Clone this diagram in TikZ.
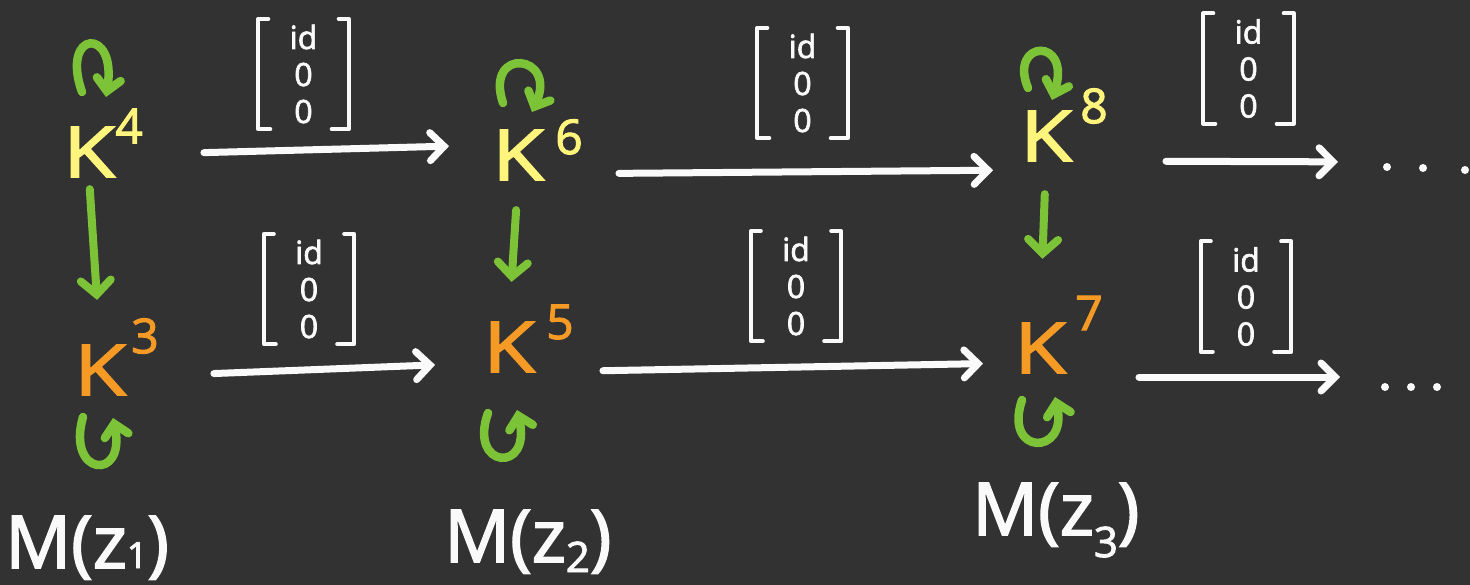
\documentclass[tikz,border=0pt]{standalone}
\usepackage{fontspec}
\setmainfont{Open Sans}[FakeBold=2.2]
\usetikzlibrary{arrows.meta,calc}

\definecolor{board}{HTML}{323232}
\definecolor{chalkw}{HTML}{FAFAFA}
\definecolor{kyellow}{HTML}{FFF47C}
\definecolor{korange}{HTML}{F59B25}
\definecolor{kgreen}{HTML}{7CC338}

\tikzset{
  every node/.style={inner sep=0pt},
  kay/.style={font=\fontsize{70}{70}\selectfont, minimum width=44pt},
  expo/.style={font=\fontsize{48}{48}\selectfont},
  mlabel/.style={text=chalkw, anchor=base west, font=\fontsize{73}{73}\selectfont},
  matx/.style={text=chalkw, align=center, font=\fontsize{32}{37}\selectfont,
               minimum width=90pt, minimum height=110pt},
  bracket/.style={chalkw, line width=4pt, line cap=round, line join=round},
  harrow/.style={chalkw, line width=7pt, line cap=round,
                 -{Straight Barb[length=14pt,width=28pt,line cap=round]}},
  varrow/.style={kgreen, line width=8pt, line cap=round,
                 -{Straight Barb[length=14pt,width=30pt,line cap=round]}},
  loopy/.style={kgreen, line width=8.5pt, line cap=round,
                -{Straight Barb[length=12pt,width=24pt,line cap=round]}},
}

% square brackets around a column node
\newcommand\mbrackets[1]{%
  \draw[bracket] ([xshift=10pt]#1.north west) -- (#1.north west)
     -- (#1.south west) -- ([xshift=12pt]#1.south west);
  \draw[bracket] ([xshift=-10pt]#1.north east) -- (#1.north east)
     -- (#1.south east) -- ([xshift=-17pt]#1.south east);
}
% lowered index in the M(z_i) labels
\newcommand\lowidx[3]{\raisebox{#1}{\fontsize{#2}{#2}\selectfont #3}}
% a wide hand-lettered K
\newcommand\wideK{\scalebox{1.2}[1]{K}}

\begin{document}
\begin{tikzpicture}[x=1pt, y=-1pt]
  \fill[board] (0,0) rectangle (1470,585);
  \useasboundingbox (0,0) rectangle (1470,585);

  % K nodes
  \node[kay, text=kyellow] (K4) at (89,152) {\wideK};
  \node[kay, text=korange] (K3) at (100,370) {\wideK};
  \node[kay, text=kyellow] (K6) at (518,155) {\wideK};
  \node[kay, text=korange] (K5) at (509,347) {\wideK};
  \node[kay, text=kyellow] (K8) at (1046,136) {\wideK};
  \node[kay, text=korange] (K7) at (1040,348) {\wideK};

  % exponents
  \node[expo, text=kyellow] (K4x) at (129,126) {4};
  \node[expo, text=korange] (K3x) at (145,336) {3};
  \node[expo, text=kyellow] (K6x) at (569,137) {6};
  \node[expo, text=korange] (K5x) at (560,322) {5};
  \node[expo, text=kyellow] (K8x) at (1094,106) {8};
  \node[expo, text=korange] (K7x) at (1089,313) {7};

  % fibre labels
  \node[mlabel] (Mz1) at (5,568) {M(z\lowidx{0pt}{36}{1})};
  \node[mlabel] (Mz2) at (444,562) {M(z\lowidx{-10pt}{42}{2})};
  \node[mlabel] (Mz3) at (972,535) {M(z\lowidx{-22pt}{42}{3})};

  % column matrices over the maps
  \node[matx] (mTL) at (303.5,74) {id\\0\\0};
  \node[matx] (mTM) at (802.5,83) {id\\0\\0};
  \node[matx] (mTR) at (1248.5,68.5) {id\\0\\0};
  \node[matx] (mBL) at (309,289) {id\\0\\0};
  \node[matx] (mBM) at (796,286) {id\\0\\0};
  \node[matx] (mBR) at (1246,296.5) {id\\0\\0};
  \mbrackets{mTL}\mbrackets{mTM}\mbrackets{mTR}
  \mbrackets{mBL}\mbrackets{mBM}\mbrackets{mBR}

  % trailing dots
  \coordinate (dotsT) at (1387,167);
  \coordinate (dotsB) at (1385,387);
  \fill[chalkw] (dotsT) circle (4) ++(36,1) circle (4) ++(42,2) circle (4);
  \fill[chalkw] (dotsB) circle (4) ++(26,0) circle (4) ++(26,0) circle (4);

  % horizontal maps
  \draw[harrow, shorten <=89pt, shorten >=43pt]
    ([yshift=-3pt]K4.east) -- ([yshift=10pt]K6.west);
  \draw[harrow, shorten <=75pt, shorten >=27pt]
    ([yshift=-19pt]K6.east) -- ([yshift=-34pt]K8.west);
  \draw[harrow, shorten <=94pt, shorten >=49pt]
    ([yshift=-25pt]K8.east) -- ([yshift=5pt]dotsT);
  \draw[harrow, shorten <=88pt, shorten >=48pt]
    ([yshift=-7pt]K3.east) -- ([yshift=-16pt]K5.west);
  \draw[harrow, shorten <=68pt, shorten >=31pt]
    ([yshift=-25pt]K5.east) -- ([yshift=-15pt]K7.west);
  \draw[harrow, shorten <=73pt, shorten >=45pt]
    ([yshift=-29pt]K7.east) -- ([yshift=10pt]dotsB);

  % vertical maps
  \draw[varrow, shorten <=12pt, shorten >=45pt] (K4.south) -- (K3.north);
  \draw[varrow, shorten <=30pt, shorten >=40pt] (K6.south) -- (K5.north);
  \draw[varrow, shorten <=33pt, shorten >=64pt] (K8.south) -- (K7.north);

  % self maps above the upper row
  \draw[loopy] (82,92) .. controls (60,30) and (117,26) .. (106,97);
  \draw[loopy] (503,103) .. controls (484,46) and (558,54) .. (532,112);
  \draw[loopy] (1028,88) .. controls (1008,40) and (1072,36) .. (1052,100);

  % self maps below the lower row
  \draw[loopy] (83,417) .. controls (66,476) and (126,482) .. (113,418);
  \draw[loopy] (488,413) .. controls (468,469) and (532,474) .. (517,410);
  \draw[loopy] (1022,400) .. controls (1003,456) and (1068,456) .. (1055,397);
\end{tikzpicture}
\end{document}
